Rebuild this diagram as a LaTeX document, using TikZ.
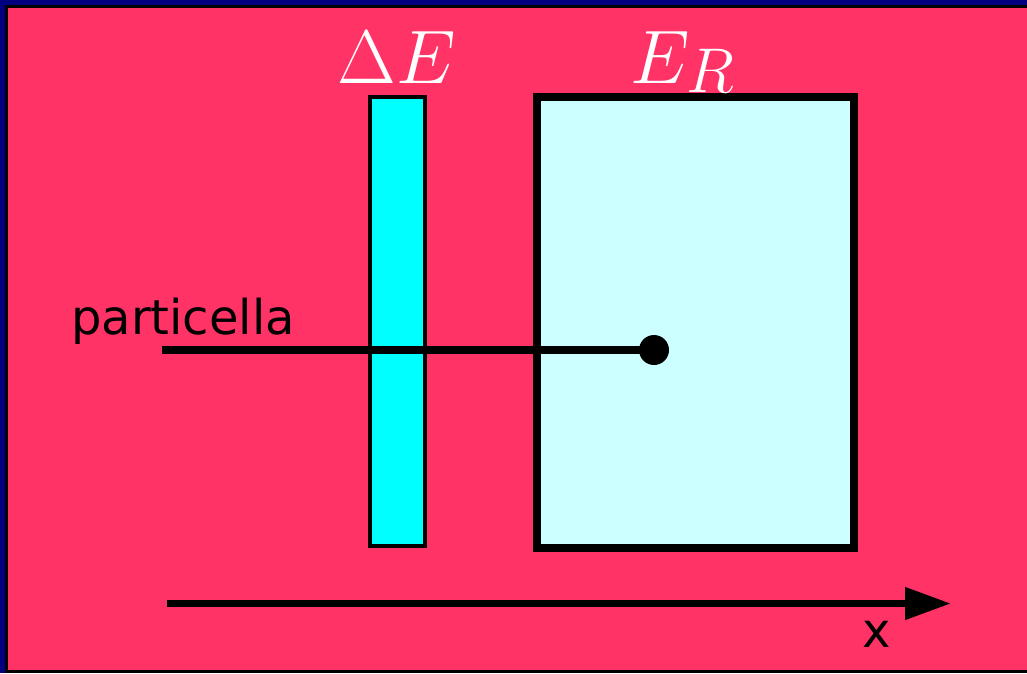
\documentclass[tikz,border=0pt]{standalone}
\usepackage{fontspec}
\newfontfamily\labfont{DejaVu Sans}
\usetikzlibrary{arrows.meta}
\definecolor{bgpink}{HTML}{FF3366}
\definecolor{navy}{HTML}{000080}
\definecolor{thincyan}{HTML}{00FFFF}
\definecolor{palecyan}{HTML}{CCFFFF}
\begin{document}
\begin{tikzpicture}[x=1pt,y=-1pt,
  lab/.style={font=\labfont\fontsize{48}{50}\selectfont, text=black, inner sep=0pt},
  mlab/.style={text=white, inner sep=0pt, font=\Huge, scale=3.05, anchor=base west},
  thick line/.style={line width=7.5pt}
]
\useasboundingbox (0,0) rectangle (1027,673);
\fill[navy] (0,0) rectangle (1027,673);
\draw[fill=bgpink, line width=3pt] (6.5,6.5) rectangle (1035,671.5);
% detectors
\node[draw=black, line width=3.5pt, fill=thincyan, minimum width=55pt, minimum height=449pt, inner sep=0pt, outer sep=0pt, anchor=north west] (de) at (370,97) {};
\node[draw=black, line width=7.5pt, fill=palecyan, minimum width=317pt, minimum height=451pt, inner sep=0pt, outer sep=0pt, anchor=north west] (er) at (537,97) {};
% labels
\node[mlab] (deL) at (337,83) {$\Delta E$};
\node[mlab] (erL) at (630,83) {$E$\kern-1.2pt\raisebox{-3.2pt}{$\scriptstyle R$}};
\node[lab] (part) at (183,321) {particella};
% particle track
\coordinate (start) at (162,350);
\node[circle, fill=black, minimum size=30pt, inner sep=0pt] (dot) at (654,350) {};
\draw[thick line] (start) -- (dot.center);
% axis
\coordinate (ax0) at (167,603.5);
\coordinate (ax1) at (951,603.5);
\draw[thick line, -{Triangle[length=46pt,width=31pt]}] (ax0) -- (ax1);
\node[lab] (xl) at (877,634) {x};
\end{tikzpicture}
\end{document}
